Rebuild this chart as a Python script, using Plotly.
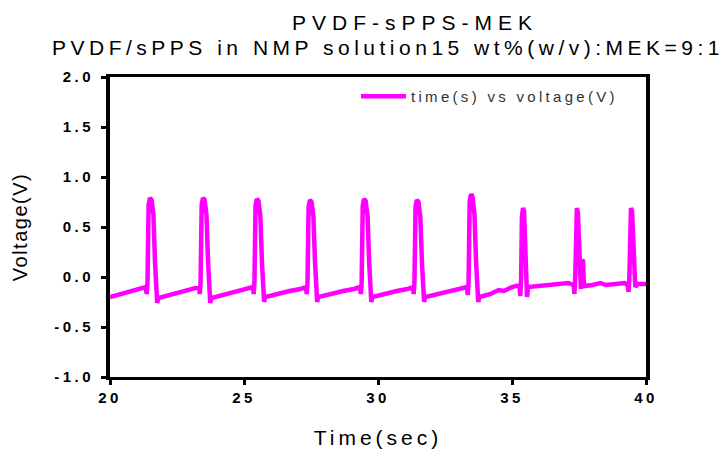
import plotly.graph_objects as go

# Time (s) and voltage (V)
time_s = [
    20.00, 20.40, 20.80, 21.20, 21.33,
    21.37, 21.40, 21.44, 21.49, 21.55, 21.62, 21.68, 21.72, 21.76, 21.80, 22.20, 22.70, 23.10, 23.32,
    23.35, 23.38, 23.42, 23.47, 23.53, 23.60, 23.66, 23.70, 23.74, 23.78, 24.20, 24.70, 25.10, 25.33,
    25.36, 25.39, 25.43, 25.48, 25.54, 25.61, 25.67, 25.71, 25.75, 25.79, 26.20, 26.70, 27.10, 27.31,
    27.34, 27.37, 27.41, 27.46, 27.52, 27.59, 27.65, 27.69, 27.73, 27.77, 28.20, 28.70, 29.10, 29.33,
    29.36, 29.39, 29.43, 29.48, 29.54, 29.61, 29.67, 29.71, 29.75, 29.79, 30.20, 30.70, 31.10, 31.30,
    31.33, 31.36, 31.40, 31.45, 31.51, 31.58, 31.64, 31.68, 31.72, 31.76, 32.20, 32.70, 33.10, 33.32,
    33.35, 33.38, 33.42, 33.47, 33.53, 33.60, 33.66, 33.70, 33.74, 33.78, 34.20, 34.50, 34.70, 35.00, 35.28,
    35.31, 35.34, 35.37, 35.41, 35.45, 35.50, 35.53, 35.56, 35.60, 36.00, 36.40, 36.80, 37.10, 37.30,
    37.33, 37.36, 37.39, 37.42, 37.46, 37.50, 37.54, 37.57, 37.62, 37.65, 37.68, 37.72, 38.00, 38.30, 38.50, 38.80, 39.20, 39.32,
    39.35, 39.38, 39.41, 39.44, 39.48, 39.53, 39.57, 39.60, 39.70, 40.00,
]
voltage_v = [
    -0.20, -0.17, -0.14, -0.11, -0.10,
    -0.17, -0.05, 0.72, 0.79, 0.77, 0.62, 0.15, -0.22, -0.26, -0.21, -0.18, -0.15, -0.12, -0.10,
    -0.17, -0.05, 0.72, 0.79, 0.77, 0.62, 0.15, -0.22, -0.26, -0.21, -0.18, -0.15, -0.12, -0.10,
    -0.17, -0.05, 0.71, 0.78, 0.76, 0.61, 0.15, -0.22, -0.25, -0.20, -0.17, -0.14, -0.12, -0.10,
    -0.17, -0.05, 0.70, 0.77, 0.75, 0.60, 0.15, -0.22, -0.25, -0.20, -0.17, -0.14, -0.12, -0.10,
    -0.17, -0.05, 0.71, 0.78, 0.76, 0.61, 0.15, -0.22, -0.25, -0.20, -0.17, -0.14, -0.12, -0.10,
    -0.17, -0.05, 0.70, 0.77, 0.75, 0.60, 0.15, -0.22, -0.25, -0.20, -0.17, -0.14, -0.12, -0.10,
    -0.18, -0.05, 0.75, 0.83, 0.80, 0.62, 0.15, -0.22, -0.25, -0.20, -0.17, -0.13, -0.14, -0.10, -0.08,
    -0.19, -0.02, 0.60, 0.69, 0.66, 0.30, -0.05, -0.20, -0.10, -0.09, -0.08, -0.07, -0.06, -0.08,
    -0.17, 0.00, 0.60, 0.69, 0.64, 0.30, -0.10, -0.12, 0.17, 0.16, -0.05, -0.09, -0.08, -0.06, -0.08, -0.07, -0.06, -0.08,
    -0.15, 0.00, 0.60, 0.69, 0.66, 0.30, -0.05, -0.10, -0.07, -0.07,
]

x_ticks = [20, 25, 30, 35, 40]
y_ticks = [-1.0, -0.5, 0.0, 0.5, 1.0, 1.5, 2.0]

title_line1 = "PVDF-sPPS-MEK"
title_line2 = "PVDF/sPPS in NMP solution15 wt%(w/v):MEK=9:1"
x_title = "Time(sec)"
y_title = "Voltage(V)"
series_name = "time(s) vs voltage(V)"

FONT = "Liberation Sans, Arial, sans-serif"


def spaced(s, px):
    return f'<span style="letter-spacing:{px}px">{s}</span>'


fig = go.Figure()
fig.add_trace(go.Scatter(
    x=time_s, y=voltage_v, mode="lines",
    line=dict(color="#FF00FF", width=4.5),
    name=spaced(series_name, 3.3),
))

fig.update_layout(
    width=726, height=452,
    margin=dict(l=110, r=80, t=77, b=75),
    paper_bgcolor="white", plot_bgcolor="white",
    font=dict(family=FONT, color="black"),
    showlegend=True,
    legend=dict(x=0.459, y=0.99, xanchor="left", yanchor="top", itemwidth=45,
                bgcolor="rgba(0,0,0,0)", font=dict(size=15, color="#333333")),
    annotations=[
        dict(text=spaced(title_line1, 6), x=0.569, y=1.183, xref="paper", yref="paper",
             xanchor="center", yanchor="middle", showarrow=False, font=dict(size=21, color="black")),
        dict(text=spaced(title_line2, 4.5), x=0.519, y=1.097, xref="paper", yref="paper",
             xanchor="center", yanchor="middle", showarrow=False, font=dict(size=21, color="black")),
    ],
)
fig.update_xaxes(
    range=[20, 40], tickvals=x_ticks, ticktext=[spaced(f"<b>{v}</b>", 3.5) for v in x_ticks],
    showgrid=False, zeroline=False, showline=True, linecolor="black", linewidth=3, mirror=True,
    ticks="outside", ticklen=5, tickwidth=3, tickcolor="black", automargin=False,
    tickfont=dict(size=15, family=FONT, color="black"),
    title=dict(text=spaced(x_title, 4), font=dict(size=21), standoff=26),
)
fig.update_yaxes(
    range=[-1.0, 2.0], tickvals=y_ticks, ticktext=[spaced(f"<b>{v:.1f}</b>", 3.5) for v in y_ticks],
    showgrid=False, zeroline=False, showline=True, linecolor="black", linewidth=4, mirror=True,
    ticks="outside", ticklen=5, tickwidth=3, tickcolor="black", ticklabelstandoff=4, automargin=False,
    tickfont=dict(size=15, family=FONT, color="black"),
    title=dict(text=spaced(y_title, 1.5), font=dict(size=20), standoff=22),
)

fig.write_html("out.html")
